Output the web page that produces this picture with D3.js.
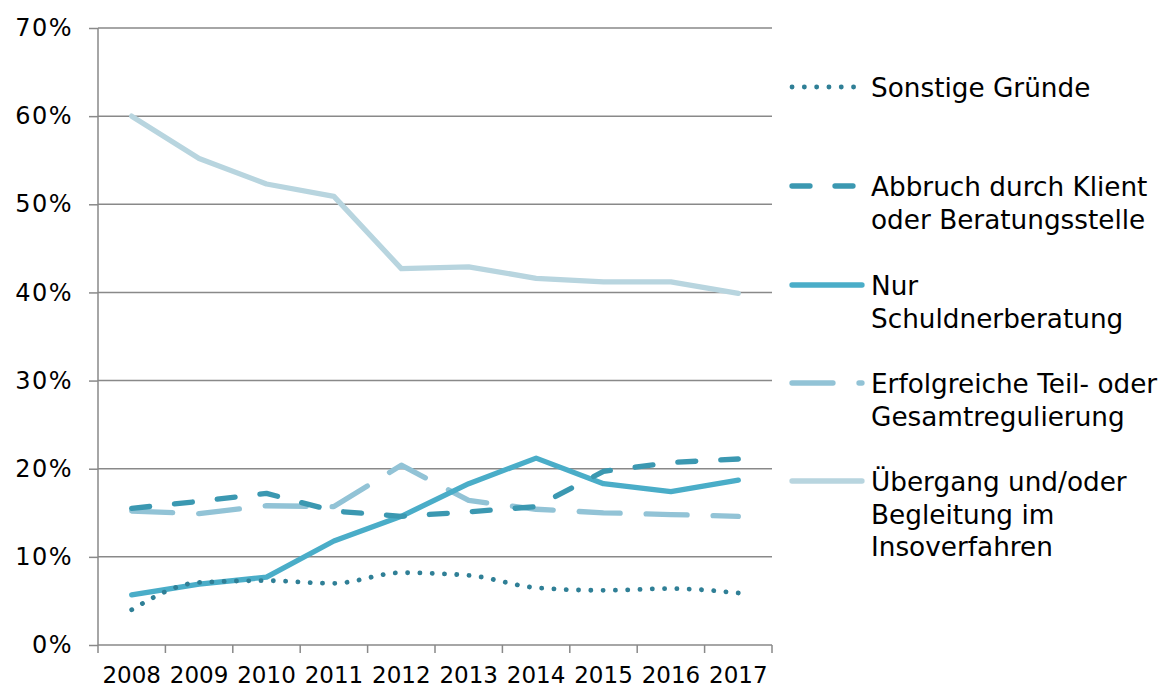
<!DOCTYPE html>
<html>
<head>
<meta charset="utf-8">
<script src="https://cdn.jsdelivr.net/npm/d3@7"></script>
<style>
  body { margin: 0; background: #fff; }
  text { font-family: "DejaVu Sans", Verdana, sans-serif; fill: #000; }
</style>
</head>
<body>
<svg id="chart" width="1169" height="687"></svg>
<script>
// Data (shares of closed cases)
const years = ["2008", "2009", "2010", "2011", "2012", "2013", "2014", "2015", "2016", "2017"];
const yTicks = [0, 0.1, 0.2, 0.3, 0.4, 0.5, 0.6, 0.7];

const sonstige     = [0.040, 0.071, 0.073, 0.070, 0.082, 0.079, 0.065, 0.062, 0.064, 0.059];
const abbruch      = [0.155, 0.163, 0.172, 0.152, 0.146, 0.151, 0.157, 0.197, 0.207, 0.211];
const nurBeratung  = [0.057, 0.069, 0.077, 0.118, 0.146, 0.183, 0.212, 0.183, 0.174, 0.187];
const erfolgreich  = [0.152, 0.149, 0.158, 0.157, 0.204, 0.164, 0.154, 0.150, 0.148, 0.146];
const uebergang    = [0.600, 0.552, 0.523, 0.509, 0.427, 0.429, 0.416, 0.412, 0.412, 0.399];

const seriesNames = [
  ["Sonstige Gründe"],
  ["Abbruch durch Klient", "oder Beratungsstelle"],
  ["Nur", "Schuldnerberatung"],
  ["Erfolgreiche Teil- oder", "Gesamtregulierung"],
  ["Übergang und/oder", "Begleitung im", "Insoverfahren"]
];

const series = [
  { name: seriesNames[0], values: sonstige,    color: "#2f7f96", dash: "0.1,12.2", width: 4.8, curve: d3.curveMonotoneX, legendY: 87 },
  { name: seriesNames[1], values: abbruch,     color: "#3b98b1", dash: "18,25",    width: 5.3, curve: d3.curveLinear,    legendY: 186 },
  { name: seriesNames[2], values: nurBeratung, color: "#4aadc8", dash: null,       width: 5.3, curve: d3.curveLinear,    legendY: 285 },
  { name: seriesNames[3], values: erfolgreich, color: "#92c3d6", dash: "41,26",    width: 5.3, curve: d3.curveLinear,    legendY: 383 },
  { name: seriesNames[4], values: uebergang,   color: "#b8d5df", dash: null,       width: 5.3, curve: d3.curveLinear,    legendY: 481 }
];

const svg = d3.select("#chart");
const plotL = 98, plotR = 772, plotT = 28, plotB = 645;

const x = d3.scaleBand().domain(years).range([plotL, plotR]);
const y = d3.scaleLinear().domain([0, 0.7]).range([plotB, plotT]);

// gridlines
svg.append("g").selectAll("line")
    .data(yTicks.slice(1))
    .enter().append("line")
    .attr("x1", plotL).attr("x2", plotR)
    .attr("y1", d => y(d)).attr("y2", d => y(d))
    .attr("stroke", "#898989").attr("stroke-width", 1.5);

// y axis
const yAxis = svg.append("g")
    .attr("transform", `translate(${plotL},0)`)
    .call(d3.axisLeft(y).tickValues(yTicks).tickFormat(d3.format(".0%")).tickSize(9).tickPadding(16));
yAxis.selectAll("line, path").attr("stroke", "#898989").attr("stroke-width", 1.5);
yAxis.select(".domain").attr("d", `M0,${plotT}V${plotB}`);
yAxis.selectAll("text").attr("font-size", 24).attr("letter-spacing", 1.5).attr("font-family", "DejaVu Sans");

// x axis
const xAxis = svg.append("g")
    .attr("transform", `translate(0,${plotB})`)
    .call(d3.axisBottom(x).tickSize(0).tickPadding(0));
xAxis.select(".domain").attr("d", `M${plotL},0H${plotR}`).attr("stroke", "#898989").attr("stroke-width", 1.5);
xAxis.selectAll("text").attr("font-size", 23).attr("font-family", "DejaVu Sans").attr("dy", 0).attr("y", 38);
// band boundary ticks
svg.append("g").selectAll("line")
    .data(years.concat(["end"]))
    .enter().append("line")
    .attr("x1", (d, i) => i < years.length ? x(d) : plotR)
    .attr("x2", (d, i) => i < years.length ? x(d) : plotR)
    .attr("y1", plotB).attr("y2", plotB + 8)
    .attr("stroke", "#898989").attr("stroke-width", 1.5);

// lines
series.slice().reverse().forEach(s => {
  const line = d3.line()
      .x((d, i) => x(years[i]) + x.bandwidth() / 2)
      .y(d => y(d))
      .curve(s.curve);
  svg.append("path")
      .datum(s.values)
      .attr("d", line)
      .attr("fill", "none")
      .attr("stroke", s.color)
      .attr("stroke-width", s.width)
      .attr("stroke-linecap", "round")
      .attr("stroke-linejoin", "round")
      .attr("stroke-dasharray", s.dash);
});

// legend
const lg = svg.append("g").selectAll("g")
    .data(series)
    .enter().append("g")
    .attr("transform", d => `translate(792,${d.legendY})`);
lg.append("line")
    .attr("x1", 0).attr("x2", 70).attr("y1", 0).attr("y2", 0)
    .attr("stroke", d => d.color)
    .attr("stroke-width", d => d.width)
    .attr("stroke-linecap", "round")
    .attr("stroke-dasharray", d => d.dash);
lg.each(function (d) {
  d3.select(this).selectAll("text")
    .data(d.name)
    .enter().append("text")
    .attr("x", 79)
    .attr("y", (t, i) => 10 + i * 32.5)
    .attr("font-size", 26.3)
    .text(t => t);
});
</script>
</body>
</html>
